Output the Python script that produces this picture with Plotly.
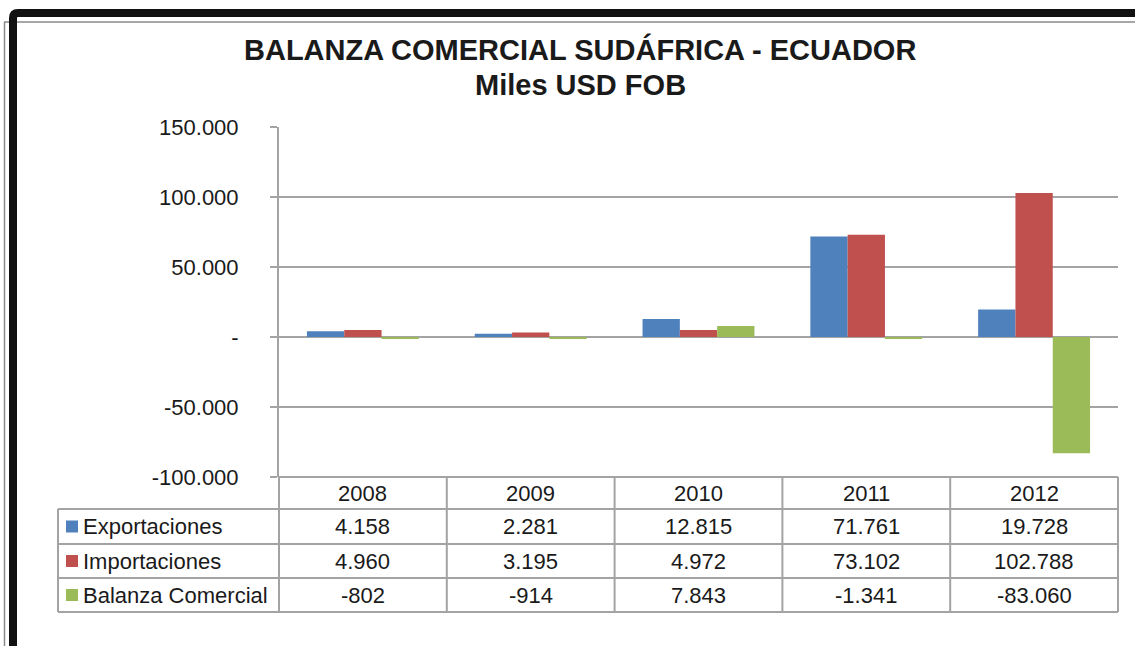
import plotly.graph_objects as go

# ---------------- data ----------------
years = ["2008", "2009", "2010", "2011", "2012"]
exportaciones = [4158, 2281, 12815, 71761, 19728]
importaciones = [4960, 3195, 4972, 73102, 102788]
balanza = [-802, -914, 7843, -1341, -83060]
series_names = ["Exportaciones", "Importaciones", "Balanza Comercial"]
series_values = [exportaciones, importaciones, balanza]
series_colors = ["#4F81BD", "#C0504D", "#9BBB59"]
y_ticks = [150000, 100000, 50000, 0, -50000, -100000]
title_lines = ["BALANZA COMERCIAL SUDÁFRICA - ECUADOR", "Miles USD FOB"]

W, H = 1135, 646
# plot area in pixels
PL, PR, PT, PB = 279, 1118, 127, 477

def fmt(v):
    return "-" if v == 0 else f"{v:,}".replace(",", ".")

def px(x):
    return (x - PL) / (PR - PL)

def py(y):
    return (PB - y) / (PB - PT)

FONT = "Liberation Sans, Arial, sans-serif"
GRID = "#A3A3A3"
TEXT = "#1a1a1a"
FS = 22

fig = go.Figure()
for name, vals, col in zip(series_names, series_values, series_colors):
    fig.add_trace(go.Bar(x=years, y=vals, name=name, marker=dict(color=col, line=dict(width=0))))

shapes = []
annotations = []

# title lines
for t, yc in zip(title_lines, [49, 85]):
    annotations.append(dict(x=px(580), xref="paper", y=py(yc), yref="paper", text=f"<b>{t}</b>", showarrow=False,
                            font=dict(family=FONT, size=29, color=TEXT), xanchor="center", yanchor="middle"))

# table grid
row_edges = [477, 509, 544, 578, 612]
col_edges = [58, 279] + [279 + (PR - PL) * (i + 1) / len(years) for i in range(len(years))]
line = dict(color=GRID, width=2)
for i, yy in enumerate(row_edges):
    x0 = PL if i == 0 else 58
    shapes.append(dict(type="line", xref="paper", yref="paper", x0=px(x0), x1=px(PR), y0=py(yy), y1=py(yy), line=line, layer="above"))
for j, xx in enumerate(col_edges):
    y0 = 509 if j == 0 else 477
    shapes.append(dict(type="line", xref="paper", yref="paper", x0=px(xx), x1=px(xx), y0=py(y0), y1=py(612), line=line, layer="above"))

for i, yr in enumerate(years):
    annotations.append(dict(x=i, xref="x", y=py((477 + 509) / 2), yref="paper", text=yr, showarrow=False,
                            font=dict(family=FONT, size=FS, color=TEXT), xanchor="center", yanchor="middle"))
for r, (name, vals, col) in enumerate(zip(series_names, series_values, series_colors)):
    yc = (row_edges[r + 1] + row_edges[r + 2]) / 2
    shapes.append(dict(type="rect", xref="paper", yref="paper", x0=px(66), x1=px(78), y0=py(yc + 6), y1=py(yc - 6),
                       fillcolor=col, line=dict(width=0)))
    annotations.append(dict(x=px(81), xref="paper", y=py(yc), yref="paper", text=name, showarrow=False,
                            font=dict(family=FONT, size=FS, color=TEXT), xanchor="left", yanchor="middle"))
    for i, v in enumerate(vals):
        annotations.append(dict(x=i, xref="x", y=py(yc), yref="paper", text=fmt(v), showarrow=False,
                                font=dict(family=FONT, size=FS, color=TEXT), xanchor="center", yanchor="middle"))

# outer frame
shapes.append(dict(type="line", xref="paper", yref="paper", x0=px(4), x1=px(1140), y0=py(22), y1=py(22), line=dict(color="#8a8a8a", width=1.5)))
shapes.append(dict(type="line", xref="paper", yref="paper", x0=px(4.5), x1=px(4.5), y0=py(22), y1=py(660), line=dict(color="#8a8a8a", width=1.5)))
shapes.append(dict(type="path", xref="paper", yref="paper",
                   path=f"M {px(13)},{py(660)} L {px(13)},{py(18)} Q {px(13)},{py(13)} {px(18)},{py(13)} L {px(1150)},{py(13)}",
                   line=dict(color="#111111", width=8)))

fig.update_layout(
    width=W, height=H,
    margin=dict(l=PL, r=W - PR, t=PT, b=H - PB),
    paper_bgcolor="white", plot_bgcolor="white",
    barmode="group", bargap=0.333, bargroupgap=0,
    showlegend=False,
    separators=",.",
    xaxis=dict(type="category", showticklabels=False, showgrid=False, showline=False, ticks="",
               range=[-0.5, len(years) - 0.5]),
    yaxis=dict(range=[-100000, 150000], tickvals=y_ticks, ticktext=[fmt(v) for v in y_ticks],
               showgrid=True, gridcolor=GRID, gridwidth=2,
               zeroline=True, zerolinecolor=GRID, zerolinewidth=2,
               showline=True, linecolor=GRID, linewidth=2,
               ticks="outside", ticklen=7, tickcolor=GRID, tickwidth=2,
               ticklabelstandoff=27,
               tickfont=dict(family=FONT, size=FS, color=TEXT)),
    shapes=shapes, annotations=annotations,
)

fig.write_html("out.html", config={"displayModeBar": False},
               post_script="document.body.style.margin='0';document.body.style.overflow='hidden';")
